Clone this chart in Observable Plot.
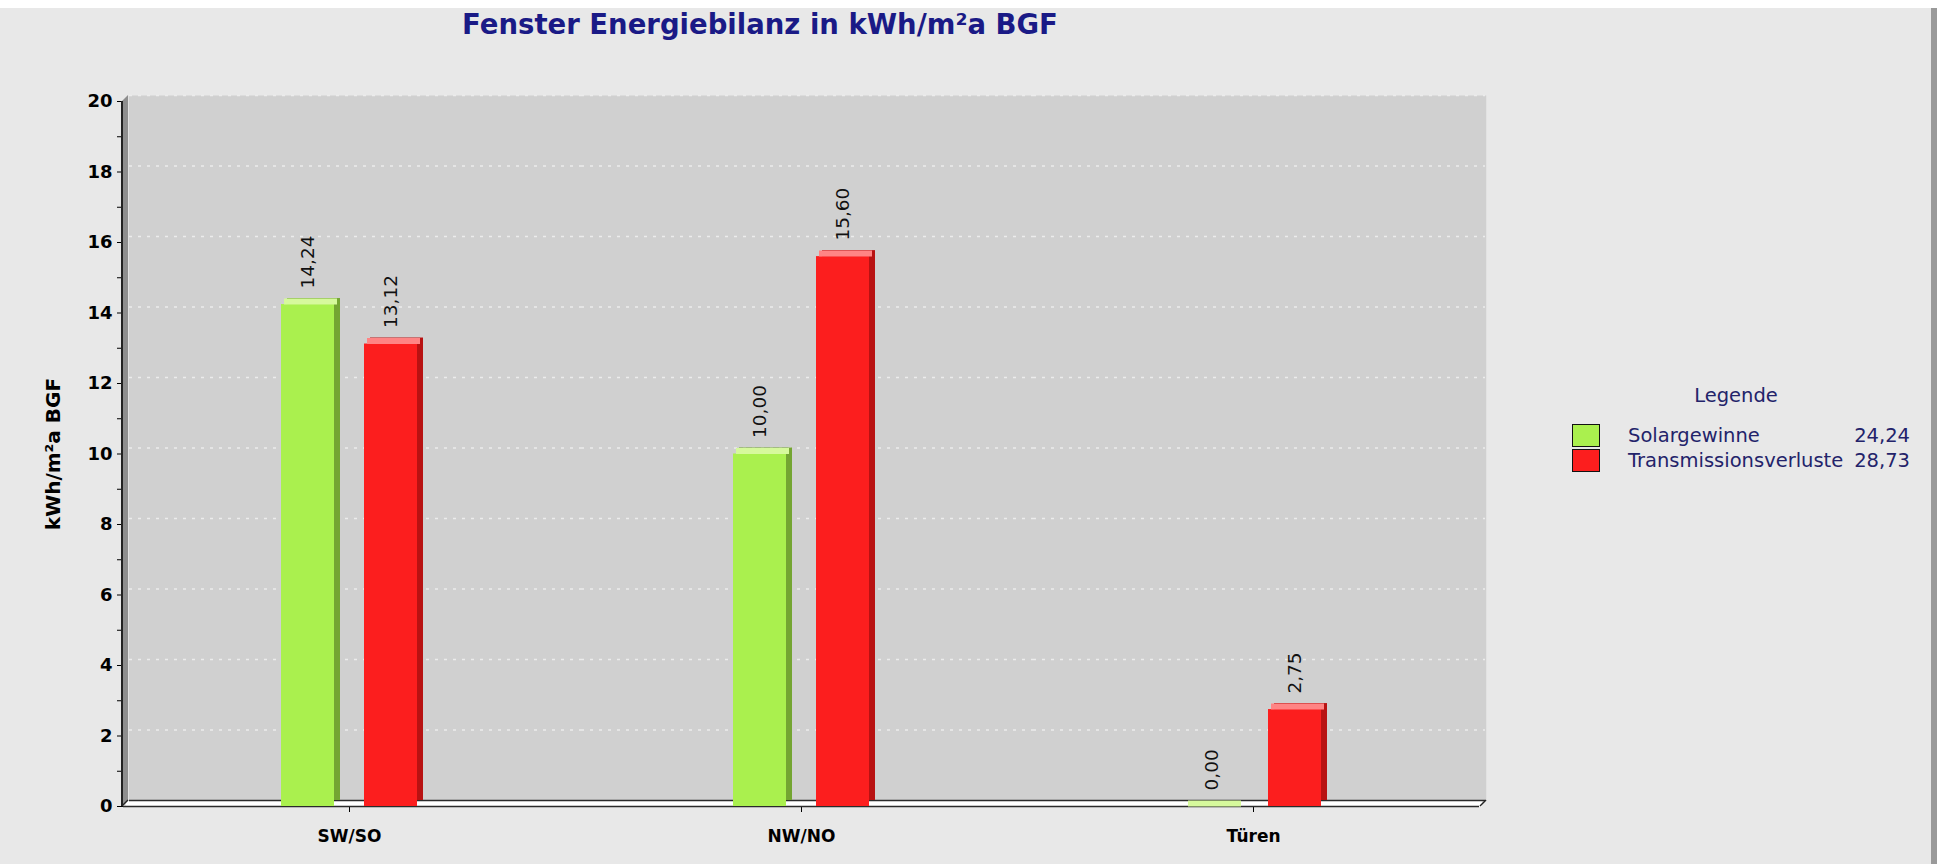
<!DOCTYPE html>
<html>
<head>
<meta charset="utf-8">
<script src="https://cdn.jsdelivr.net/npm/d3@7"></script>
<script src="https://cdn.jsdelivr.net/npm/@observablehq/plot@0.6"></script>
<style>
  html, body { margin: 0; padding: 0; background: #ffffff; width: 1946px; height: 864px; overflow: hidden; font-family: "DejaVu Sans", sans-serif; }
  #panel { position: absolute; left: 0; top: 8px; width: 1931px; height: 856px; background: #e8e8e8; border-right: 6px solid #9a9a9a; }
  #chart { position: absolute; left: 0; top: 0; }
  #title { position: absolute; left: 0; width: 1520px; top: 8px; text-align: center; font-weight: bold; font-size: 27.5px; color: #1a1a86; }
  #legend { position: absolute; left: 1560px; top: 384px; width: 352px; color: #23236a; font-size: 19.5px; }
  #legend .head { text-align: center; width: 352px; position: absolute; top: 0; left: 0; }
  #legend .row { position: absolute; left: 12px; width: 338px; height: 24px; }
  #legend .sw { position: absolute; left: 0; top: 0; width: 26px; height: 21px; border: 1.5px solid #111; }
  #legend .lab { position: absolute; left: 56px; top: 0; line-height: 24px; }
  #legend .val { position: absolute; right: 0; top: 0; line-height: 24px; }
  svg g[aria-label="y-axis tick label"] { font-size: 18px; font-weight: bold; }
  svg g[aria-label="fx-axis tick label"] { font-size: 17px; font-weight: bold; }
  svg g[aria-label="y-axis label"] { font-size: 20px; font-weight: bold; }
</style>
</head>
<body>
<div id="panel"></div>
<div id="chart"></div>
<div id="title">Fenster Energiebilanz in kWh/m²a BGF</div>
<div id="legend"></div>
<script>
// ---- data ----
const categories = ["SW/SO", "NW/NO", "Türen"];
const series = ["Solargewinne", "Transmissionsverluste"];
const solargewinne = [14.24, 10.00, 0.00];
const transmissionsverluste = [13.12, 15.60, 2.75];
const legendTotals = [24.24, 28.73];
const yTicks = d3.range(0, 21, 1);
const gridTicks = d3.range(2, 21, 2);

// ---- styles ----
const faceColors = ["#aaf04e", "#fc1e1e"];
const sideColors = ["#74a532", "#b81212"];
const topColors = ["#d6f99c", "#ff8484"];

const fmt = v => d3.format(".2f")(v).replace(".", ",");

const valuesBySeries = [solargewinne, transmissionsverluste];
const rows = [];
series.forEach((s, i) => categories.forEach((c, j) => rows.push({cat: c, series: s, value: valuesBySeries[i][j], si: i})));

const depth = 6;
const barMarks = [];
series.forEach((s, i) => {
  const d = rows.filter(r => r.si === i);
  barMarks.push(Plot.barY(d, {fx: "cat", x: "series", y: "value", fill: sideColors[i], dx: depth, dy: -depth}));
  barMarks.push(Plot.barY(d, {fx: "cat", x: "series", y: "value", fill: faceColors[i]}));
  barMarks.push(Plot.tickY(d, {fx: "cat", x: "series", y: "value", stroke: topColors[i], strokeWidth: depth, dx: depth / 2, dy: -depth / 2}));
});

const plot = Plot.plot({
  width: 1946,
  height: 864,
  marginLeft: 122,
  marginRight: 466,
  marginTop: 101,
  marginBottom: 58,
  style: {background: "transparent", fontFamily: "DejaVu Sans", color: "#000"},
  fx: {domain: categories, padding: 0, label: null, tickSize: 6, tickPadding: 17},
  x: {domain: series, paddingInner: 0.357, paddingOuter: 1.873, axis: null},
  y: {domain: [0, 20], ticks: yTicks, tickFormat: d => d % 2 ? "" : d, tickSize: 6, tickPadding: 5,
      label: "kWh/m²a BGF", labelAnchor: "center", labelOffset: 78, labelArrow: "none"},
  marks: [
    Plot.frame({fill: "#d0d0d0", stroke: null, dx: depth, dy: -depth, insetLeft: -0.75, insetRight: -0.75}),
    Plot.ruleY(gridTicks, {stroke: "#ececec", strokeWidth: 1.5, strokeDasharray: "3,6", dx: depth, dy: -depth}),
    Plot.ruleY([0], {stroke: "#ffffff", strokeWidth: depth, dx: depth / 2, dy: -depth / 2}),
    Plot.ruleY([0], {stroke: "#2a2a2a", strokeWidth: 1.5, dx: depth, dy: -depth}),
    Plot.ruleY([0], {stroke: "#2a2a2a", strokeWidth: 1.5}),
    ...barMarks,
    Plot.text(rows, {fx: "cat", x: "series", y: "value", text: d => fmt(d.value), rotate: -90, textAnchor: "start",
      dy: -16, fontSize: 18.5, fill: "#111"})
  ]
});
document.getElementById("chart").appendChild(plot);

// 3D side wall and axis line drawn from the plot's scales
const ys = plot.scale("y");
const fxr = plot.scale("fx").range;
const svg = d3.select(plot);
const y20 = ys.apply(20), y0 = ys.apply(0);
const x0 = fxr[0], x1 = fxr[1];
svg.append("polygon")
  .attr("points", [[x0, y20], [x0 + depth, y20 - depth], [x0 + depth, y0 - depth], [x0, y0]].map(p => p.join(",")).join(" "))
  .attr("fill", "#8e8e8e");
svg.append("line").attr("x1", x0).attr("x2", x0).attr("y1", y20).attr("y2", y0).attr("stroke", "#222").attr("stroke-width", 2);
svg.append("line").attr("x1", x0).attr("y1", y0).attr("x2", x0 + depth).attr("y2", y0 - depth).attr("stroke", "#222").attr("stroke-width", 1.5);
svg.append("line").attr("x1", x1).attr("y1", y0).attr("x2", x1 + depth).attr("y2", y0 - depth).attr("stroke", "#222").attr("stroke-width", 1.5);

// legend
const lg = d3.select("#legend");
lg.append("div").attr("class", "head").text("Legende");
series.forEach((s, i) => {
  const r = lg.append("div").attr("class", "row").style("top", (40 + i * 25) + "px");
  r.append("div").attr("class", "sw").style("background", faceColors[i]);
  r.append("div").attr("class", "lab").text(s);
  r.append("div").attr("class", "val").text(fmt(legendTotals[i]));
});
</script>
</body>
</html>
